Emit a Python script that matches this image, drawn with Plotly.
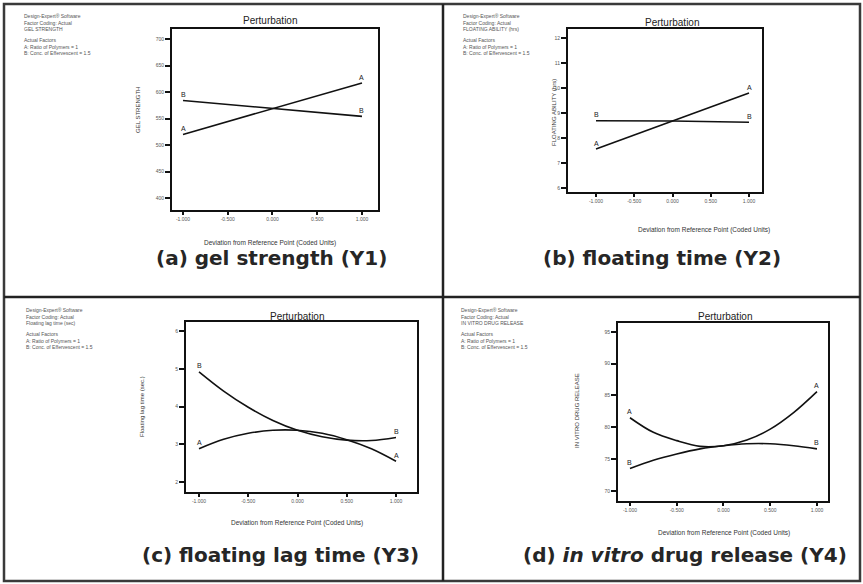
import plotly.graph_objects as go

W, H = 863, 584

# ---------------- data ----------------
x_lin = [-1.0, 0.0, 1.0]
x_coded = [-1.0, -0.75, -0.5, -0.25, 0.0, 0.25, 0.5, 0.75, 1.0]

gel_A = [520, 568.5, 617]
gel_B = [584, 569, 554]
float_A = [7.56, 8.68, 9.80]
float_B = [8.69, 8.68, 8.63]
lag_A = [2.88, 3.13, 3.29, 3.37, 3.37, 3.29, 3.12, 2.88, 2.55]
lag_B = [4.92, 4.41, 3.98, 3.63, 3.37, 3.20, 3.11, 3.10, 3.18]
rel_A = [81.5, 79.2, 77.9, 77.0, 77.1, 78.0, 79.7, 82.3, 85.6]
rel_B = [73.5, 74.8, 75.8, 76.6, 77.1, 77.4, 77.4, 77.1, 76.6]

x_ticks = [-1.0, -0.5, 0.0, 0.5, 1.0]
x_ticklabels = ["-1.000", "-0.500", "0.000", "0.500", "1.000"]
gel_ticks = [400, 450, 500, 550, 600, 650, 700]
float_ticks = [6, 7, 8, 9, 10, 11, 12]
lag_ticks = [2, 3, 4, 5, 6]
rel_ticks = [70, 75, 80, 85, 90, 95]

panel_titles = ["(a) gel strength (Y1)", "(b) floating time (Y2)",
                "(c) floating lag time (Y3)", "(d) <i>in vitro</i> drug release (Y4)"]
y_titles = ["GEL STRENGTH", "FLOATING ABILITY (hrs)",
            "Floating lag time (sec.)", "IN VITRO DRUG RELEASE"]
responses = ["GEL STRENGTH", "FLOATING ABILITY (hrs)",
             "Floating lag time (sec)", "IN VITRO DRUG RELEASE"]
x_title = "Deviation from Reference Point (Coded Units)"
plot_title = "Perturbation"
info_top = ["Design-Expert\u00ae Software", "Factor Coding: Actual"]
info_bottom = ["Actual Factors", "A: Ratio of Polymers = 1", "B: Conc. of Effervescent = 1.5"]

# ---------------- layout helpers ----------------
def px(x):
    return x / W

def py(y):
    return 1 - y / H

panels = [
    dict(box=(172, 29, 378, 210), xr=[-1.123, 1.179], yr=[377.4, 718.9],
         x=x_lin, A=gel_A, B=gel_B, yt=gel_ticks, shape="linear",
         title=(271, 258), pert=(270, 20), xt=(270, 243), ytp=(138, 110), info=(23, 12)),
    dict(box=(568, 29, 762, 192), xr=[-1.366, 1.17], yr=[5.84, 12.36],
         x=x_lin, A=float_A, B=float_B, yt=float_ticks, shape="linear",
         title=(662, 258), pert=(672, 22), xt=(704, 230), ytp=(554, 113), info=(462, 12)),
    dict(box=(186, 322, 417, 492), xr=[-1.132, 1.213], yr=[1.735, 6.24],
         x=x_coded, A=lag_A, B=lag_B, yt=lag_ticks, shape="spline",
         title=(280, 555), pert=(297, 316), xt=(297, 523), ytp=(142, 407), info=(25, 306)),
    dict(box=(618, 323, 828, 501), xr=[-1.128, 1.118], yr=[68.4, 96.4],
         x=x_coded, A=rel_A, B=rel_B, yt=rel_ticks, shape="spline",
         title=(685, 555), pert=(725, 316), xt=(724, 533), ytp=(577, 411), info=(460, 306)),
]

fig = go.Figure()
annotations = []
shapes = []
layout = {}

for i, p in enumerate(panels):
    k = "" if i == 0 else str(i + 1)
    xa, ya = "x" + k, "y" + k
    x0, y0, x1, y1 = p["box"]
    for name, vals in (("A", p["A"]), ("B", p["B"])):
        fig.add_trace(go.Scatter(
            x=p["x"], y=vals, mode="lines", xaxis=xa, yaxis=ya,
            line=dict(color="#111111", width=1.6, shape=p["shape"], smoothing=1.0),
            showlegend=False, hoverinfo="skip"))
        for xe, ye in ((p["x"][0], vals[0]), (p["x"][-1], vals[-1])):
            annotations.append(dict(x=xe, y=ye, xref=xa, yref=ya, text=name,
                                    showarrow=False, yshift=6, borderpad=0,
                                    font=dict(size=7, color="#222", family="Liberation Sans")))
    axis_common = dict(showline=True, mirror=True, linecolor="#111", linewidth=2,
                       showgrid=False, zeroline=False, ticks="outside",
                       tickcolor="#111", tickwidth=1.5,
                       tickfont=dict(size=5, color="#555", family="Liberation Sans"))
    layout["xaxis" + k] = dict(axis_common, domain=[px(x0), px(x1)], range=p["xr"],
                               tickvals=x_ticks, ticktext=x_ticklabels, ticklen=3,
                               anchor=ya)
    layout["yaxis" + k] = dict(axis_common, domain=[py(y1), py(y0)], range=p["yr"],
                               tickvals=p["yt"], ticklen=5, anchor=xa)

    tx, ty = p["title"]
    annotations.append(dict(x=px(tx), y=py(ty), xref="paper", yref="paper",
                            text="<b>" + panel_titles[i] + "</b>", showarrow=False,
                            xanchor="center", yanchor="middle",
                            font=dict(size=20, color="#262626", family="DejaVu Sans")))
    tx, ty = p["pert"]
    annotations.append(dict(x=px(tx), y=py(ty), xref="paper", yref="paper",
                            text=plot_title, showarrow=False, xanchor="center", yanchor="middle",
                            font=dict(size=10, color="#222", family="Liberation Sans")))
    tx, ty = p["xt"]
    annotations.append(dict(x=px(tx), y=py(ty), xref="paper", yref="paper",
                            text=x_title, showarrow=False, xanchor="center", yanchor="middle",
                            font=dict(size=6.5, color="#333", family="Liberation Sans")))
    tx, ty = p["ytp"]
    annotations.append(dict(x=px(tx), y=py(ty), xref="paper", yref="paper",
                            text=y_titles[i], showarrow=False, textangle=-90,
                            xanchor="center", yanchor="middle",
                            font=dict(size=6, color="#333", family="Liberation Sans")))
    ix, iy = p["info"]
    group1 = "<br>".join(info_top + [responses[i]])
    group2 = "<br>".join(info_bottom)
    for txt, top in ((group1, iy), (group2, iy + 24)):
        annotations.append(dict(x=px(ix), y=py(top), xref="paper", yref="paper",
                                text=txt, showarrow=False, xanchor="left", yanchor="top",
                                align="left", borderpad=0,
                                font=dict(size=5, color="#555", family="Liberation Sans")))

frame = "#3a3a3a"
shapes.append(dict(type="rect", xref="paper", yref="paper",
                   x0=px(4), x1=px(860), y0=py(581), y1=py(4),
                   line=dict(color=frame, width=2.5)))
shapes.append(dict(type="line", xref="paper", yref="paper",
                   x0=px(443), x1=px(443), y0=py(581), y1=py(4),
                   line=dict(color="#222", width=2.5)))
shapes.append(dict(type="line", xref="paper", yref="paper",
                   x0=px(4), x1=px(860), y0=py(297), y1=py(297),
                   line=dict(color="#222", width=2.5)))

fig.update_layout(width=W, height=H, margin=dict(l=0, r=0, t=0, b=0),
                  paper_bgcolor="white", plot_bgcolor="white",
                  annotations=annotations, shapes=shapes, **layout)

fig.write_html("out.html")
